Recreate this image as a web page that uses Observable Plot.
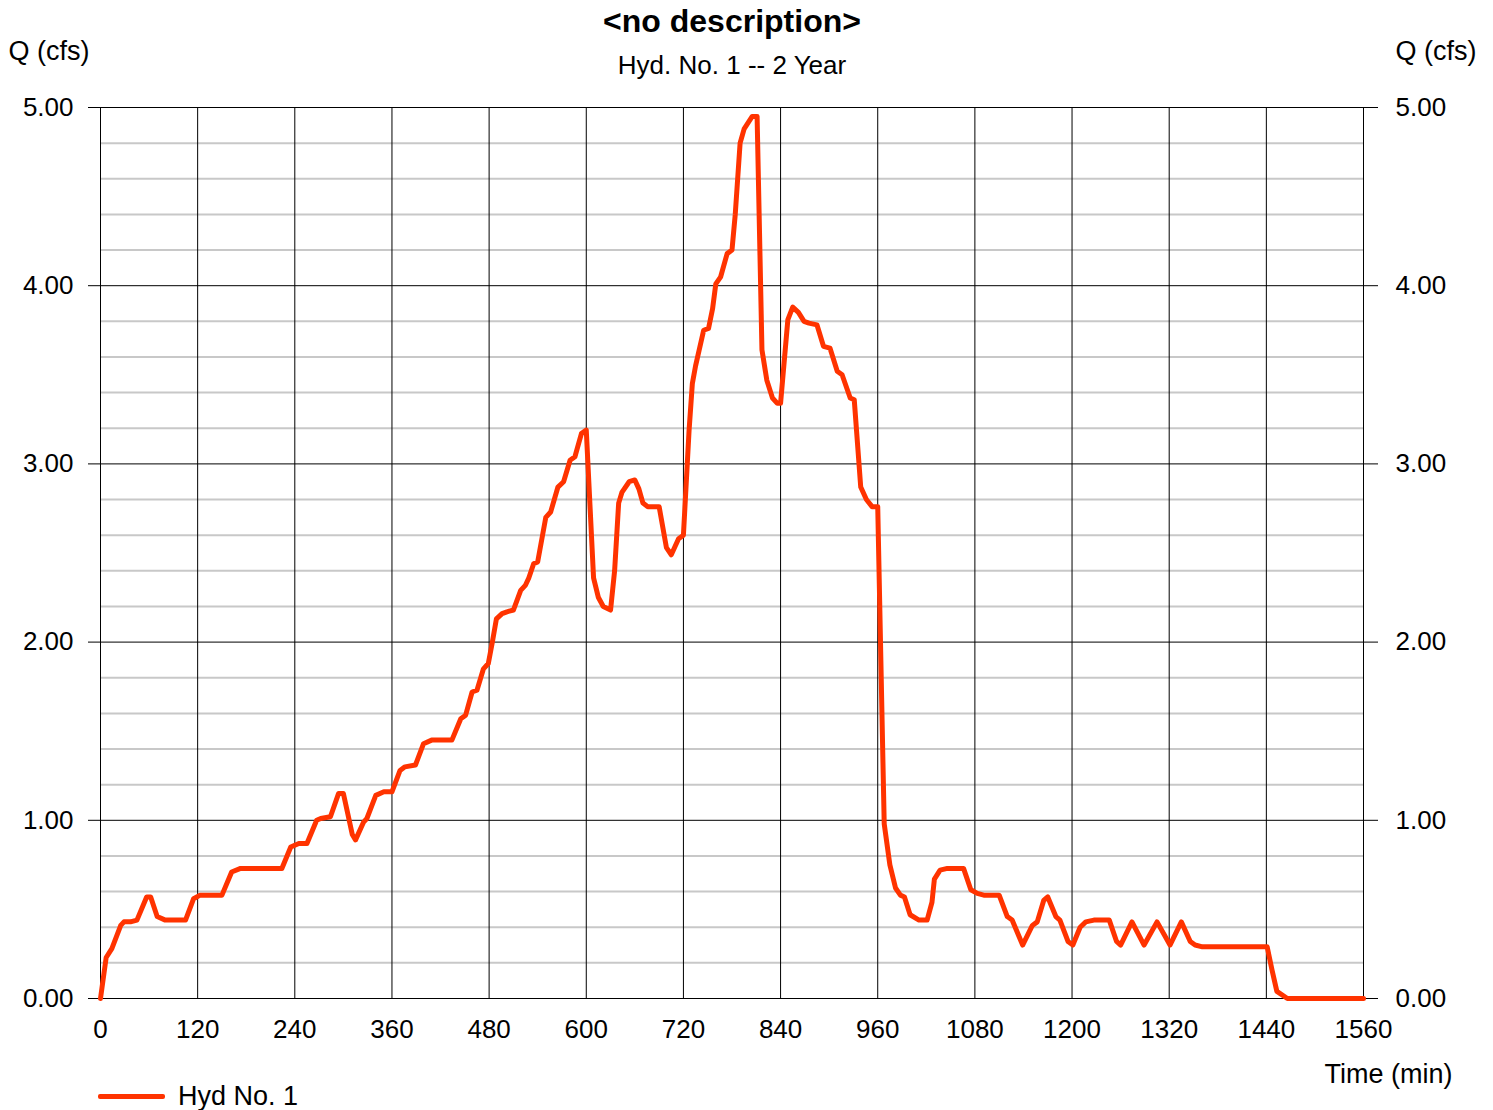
<!DOCTYPE html>
<html>
<head>
<meta charset="utf-8">
<script src="https://cdn.jsdelivr.net/npm/d3@7"></script>
<script src="https://cdn.jsdelivr.net/npm/@observablehq/plot@0.6"></script>
<style>
  body { margin: 0; background: #fff; }
  #wrap { position: relative; width: 1493px; height: 1110px; font-family: "Liberation Sans", Arial, sans-serif; }
  #legend { position: absolute; left: 98px; top: 1081px; display: flex; align-items: center; font-size: 27px; color: #000; }
  #legend .sw { width: 67px; height: 5px; background: #ff3300; border-radius: 2px; margin-right: 13px; }
</style>
</head>
<body>
<div id="wrap"></div>
<script>
// ---- data ----
const timeMin = [0,7,14,25,29,37,45,57,62,70,80,105,115,123,150,162,173,224,235,245,255,267,272,284,294,300,311,315,325,329,340,350,360,370,376,389,399,409,434,445,451,459,465,473,479,484,489,496,502,510,519,525,529,535,540,550,556,565,572,580,586,594,600,609,615,621,630,635,640,644,653,660,665,670,676,690,699,705,714,720,727,731,735,745,751,756,760,766,774,780,784,790,795,805,811,817,823,830,836,840,849,855,862,869,875,885,893,901,910,916,926,931,939,946,953,960,968,975,982,988,993,1000,1011,1021,1027,1030,1037,1046,1066,1075,1083,1091,1110,1120,1126,1139,1151,1157,1165,1170,1180,1185,1195,1201,1210,1217,1227,1246,1255,1260,1274,1289,1305,1321,1335,1346,1352,1361,1441,1447,1453,1466,1560];
const flowCfs = [0,0.23,0.28,0.41,0.43,0.43,0.44,0.57,0.57,0.46,0.44,0.44,0.56,0.58,0.58,0.71,0.73,0.73,0.85,0.87,0.87,1.00,1.01,1.02,1.15,1.15,0.92,0.89,0.99,1.01,1.14,1.16,1.16,1.28,1.30,1.31,1.43,1.45,1.45,1.57,1.59,1.72,1.73,1.85,1.88,2.00,2.13,2.16,2.17,2.18,2.29,2.32,2.36,2.44,2.45,2.70,2.73,2.87,2.90,3.02,3.04,3.17,3.19,2.36,2.25,2.20,2.18,2.40,2.78,2.84,2.90,2.91,2.86,2.78,2.76,2.76,2.53,2.49,2.58,2.60,3.19,3.45,3.55,3.75,3.76,3.87,4.01,4.05,4.18,4.20,4.40,4.80,4.88,4.95,4.95,3.64,3.47,3.37,3.34,3.34,3.81,3.88,3.85,3.80,3.79,3.78,3.66,3.65,3.52,3.50,3.37,3.36,2.87,2.80,2.76,2.76,0.98,0.75,0.62,0.58,0.57,0.47,0.44,0.44,0.54,0.67,0.72,0.73,0.73,0.61,0.59,0.58,0.58,0.46,0.44,0.30,0.41,0.43,0.55,0.57,0.46,0.44,0.32,0.30,0.40,0.43,0.44,0.44,0.32,0.30,0.43,0.30,0.43,0.30,0.43,0.32,0.30,0.29,0.29,0.16,0.04,0.00,0.00];
const xTicks = [0,120,240,360,480,600,720,840,960,1080,1200,1320,1440,1560];
const yMajorTicks = [0,1,2,3,4,5];
const yMinorTicks = [0.2,0.4,0.6,0.8,1.2,1.4,1.6,1.8,2.2,2.4,2.6,2.8,3.2,3.4,3.6,3.8,4.2,4.4,4.6,4.8];
const titleText = "<no description>";
const subtitleText = "Hyd. No. 1 -- 2 Year";
const yLabel = "Q (cfs)";
const xLabel = "Time (min)";
const seriesName = "Hyd No. 1";

const rows = timeMin.map((t, i) => ({t, q: flowCfs[i]}));
const fmt2 = d3.format(".2f");
const font = "Liberation Sans, Arial, sans-serif";

const chart = Plot.plot({
  width: 1493,
  height: 1110,
  marginLeft: 100,
  marginRight: 130,
  marginTop: 107,
  marginBottom: 112,
  style: {fontFamily: font, fontSize: "26px", color: "#000", background: "#fff"},
  x: {domain: [0, 1560]},
  y: {domain: [0, 5]},
  marks: [
    Plot.gridY(yMinorTicks, {stroke: "#c8c8c8", strokeOpacity: 1, strokeWidth: 2}),
    Plot.gridY(yMajorTicks, {stroke: "#000", strokeOpacity: 1, strokeWidth: 1}),
    Plot.gridX(xTicks, {stroke: "#000", strokeOpacity: 1, strokeWidth: 1}),
    Plot.axisY(yMajorTicks, {anchor: "left", tickFormat: fmt2, tickSize: 12, tickPadding: 15, label: null, fontSize: 26}),
    Plot.axisY(yMajorTicks, {anchor: "right", tickFormat: fmt2, tickSize: 14, tickPadding: 18, label: null, fontSize: 26}),
    Plot.axisX(xTicks, {anchor: "bottom", tickFormat: d => String(d), tickSize: 0, tickPadding: 21, label: null, fontSize: 26}),
    Plot.line(rows, {x: "t", y: "q", stroke: "#ff3300", strokeWidth: 5, strokeLinejoin: "round", strokeLinecap: "round"}),
    Plot.text([titleText], {frameAnchor: "top", dy: -76, lineAnchor: "bottom", fontSize: 32, fontWeight: "bold"}),
    Plot.text([subtitleText], {frameAnchor: "top", dy: -34, lineAnchor: "bottom", fontSize: 26}),
    Plot.text([yLabel], {frameAnchor: "top-left", textAnchor: "start", dx: -92, dy: -48, lineAnchor: "bottom", fontSize: 27}),
    Plot.text([yLabel], {frameAnchor: "top-right", textAnchor: "start", dx: 32, dy: -48, lineAnchor: "bottom", fontSize: 27}),
    Plot.text([xLabel], {frameAnchor: "bottom-right", textAnchor: "end", dx: 89, dy: 84, lineAnchor: "bottom", fontSize: 27})
  ]
});

const wrap = document.getElementById("wrap");
wrap.appendChild(chart);
const leg = document.createElement("div");
leg.id = "legend";
leg.innerHTML = '<span class="sw"></span><span></span>';
leg.lastChild.textContent = seriesName;
wrap.appendChild(leg);
</script>
</body>
</html>
